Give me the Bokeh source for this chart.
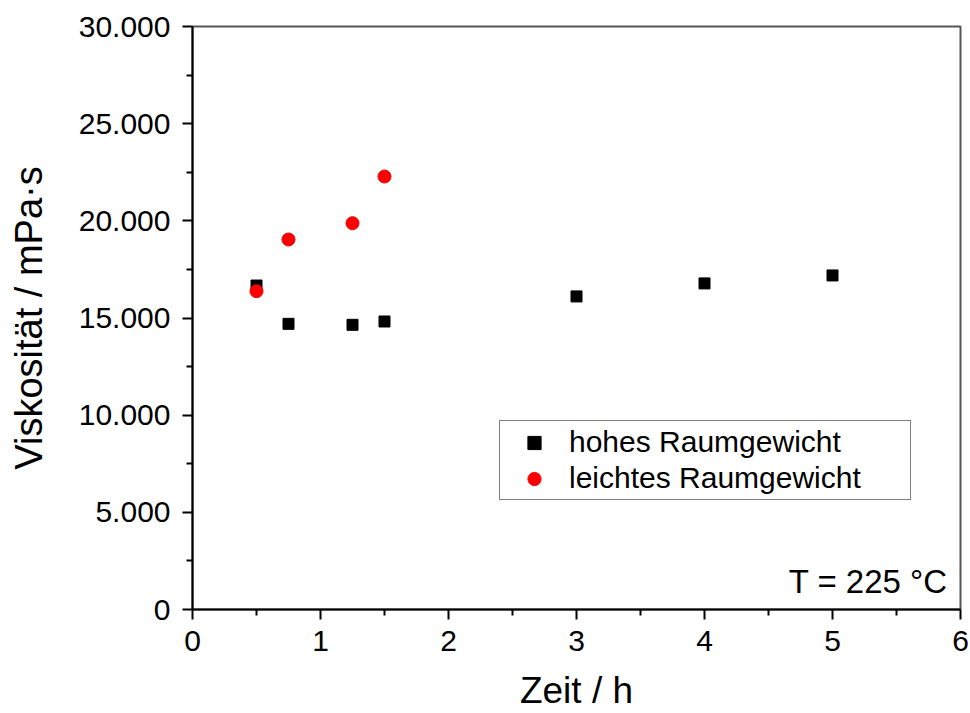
import math
from bokeh.plotting import figure
from bokeh.models import (Range1d, FixedTicker, Label, Legend, LegendItem,
                          ColumnDataSource)
from bokeh.embed import file_html
from bokeh.resources import INLINE

# ---- data ----
hoch_zeit = [0.5, 0.75, 1.25, 1.5, 3, 4, 5]
hoch_visk = [16670, 14700, 14650, 14820, 16110, 16780, 17190]
leicht_zeit = [0.5, 0.75, 1.25, 1.5]
leicht_visk = [16380, 19040, 19880, 22280]

x_ticks = [0, 1, 2, 3, 4, 5, 6]
x_minor = [0.5, 1.5, 2.5, 3.5, 4.5, 5.5]
y_ticks = [0, 5000, 10000, 15000, 20000, 25000, 30000]
y_tick_labels = ["0", "5.000", "10.000", "15.000", "20.000", "25.000", "30.000"]
y_minor = [2500, 7500, 12500, 17500, 22500, 27500]

series_names = ["hohes Raumgewicht", "leichtes Raumgewicht"]
x_label = "Zeit / h"
y_label = "Viskosität / mPa·s"
note = "T = 225 °C"

FONT = "Liberation Sans"

p = figure(width=970, height=713, output_backend="svg", toolbar_location=None,
           x_range=Range1d(0, 6), y_range=Range1d(0, 30000),
           min_border_left=192, min_border_right=10,
           min_border_top=26, min_border_bottom=104)
p.background_fill_color = "white"
p.border_fill_color = "white"
p.grid.visible = False
p.outline_line_color = "#555555"
p.outline_line_width = 2

for ax in (p.xaxis[0], p.yaxis[0]):
    ax.axis_line_color = "black"
    ax.axis_line_width = 2
    ax.major_tick_line_color = "black"
    ax.major_tick_line_width = 2
    ax.minor_tick_line_color = "black"
    ax.minor_tick_line_width = 2
    ax.major_tick_out = 10
    ax.major_tick_in = 0
    ax.minor_tick_out = 6
    ax.minor_tick_in = 0
    ax.major_label_text_font = FONT
    ax.major_label_text_font_size = "30px"
    ax.major_label_text_color = "black"
    ax.axis_label_text_font = FONT
    ax.axis_label_text_font_style = "normal"
    ax.axis_label_text_color = "black"

p.xaxis[0].ticker = FixedTicker(ticks=x_ticks, minor_ticks=x_minor)
p.yaxis[0].ticker = FixedTicker(ticks=y_ticks, minor_ticks=y_minor)
p.yaxis[0].major_label_overrides = {t: l for t, l in zip(y_ticks, y_tick_labels)}
p.xaxis[0].major_label_standoff = 11
p.yaxis[0].major_label_standoff = 12

p.xaxis[0].axis_label = x_label
p.xaxis[0].axis_label_text_font_size = "37px"
p.xaxis[0].axis_label_standoff = 16
p.yaxis[0].axis_label = y_label
p.yaxis[0].axis_label_text_font_size = "38px"
p.yaxis[0].axis_label_standoff = 26

src_h = ColumnDataSource(dict(x=hoch_zeit, y=hoch_visk))
src_l = ColumnDataSource(dict(x=leicht_zeit, y=leicht_visk))
r_h = p.scatter("x", "y", source=src_h, marker="square", size=11,
                fill_color="black", line_color="black")
r_l = p.scatter("x", "y", source=src_l, marker="circle", size=13,
                fill_color="#ff0000", line_color="#ff0000")

legend = Legend(items=[LegendItem(label=series_names[0], renderers=[r_h]),
                       LegendItem(label=series_names[1], renderers=[r_l])],
                location=(307, 109))
legend.label_text_font = FONT
legend.label_text_font_size = "30px"
legend.label_text_color = "black"
legend.glyph_width = 60
legend.glyph_height = 33
legend.label_height = 33
legend.label_width = 337
legend.label_standoff = 5
legend.spacing = 2
legend.padding = 4
legend.margin = 0
legend.border_line_color = "black"
legend.border_line_width = 1.5
legend.background_fill_alpha = 1.0
p.add_layout(legend, "center")

p.add_layout(Label(x=5.9, y=1441, text=note, text_align="right",
                   text_baseline="alphabetic", text_font=FONT,
                   text_font_size="33px", text_color="black"))

open("out.html", "w").write(file_html(p, INLINE))
